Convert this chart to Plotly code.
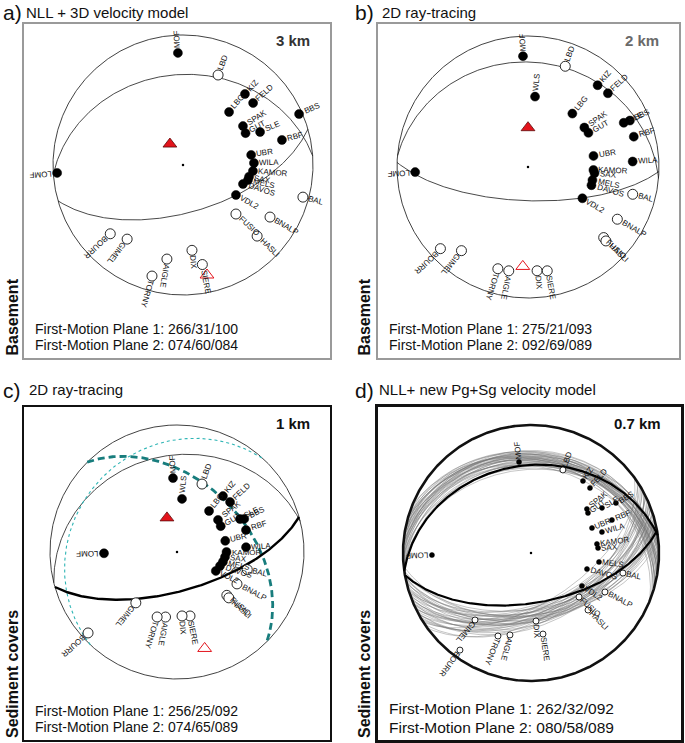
import numpy as np
import plotly.graph_objects as go

W, H = 685, 743
FONT = "Liberation Sans, Arial, Helvetica, sans-serif"

# ---------------------------------------------------------------- data
# Panel a : NLL + 3D velocity model (3 km)
a_sta = ["MOF", "LBD", "KIZ", "FELD", "LBG", "BBS", "SPAK", "GUT", "SLE", "RBF", "UBR", "WILA",
         "KAMOR", "SAX", "LOMF", "MELS", "DAVOS", "VDL2", "BAL", "FUSIO", "BNALP", "HASLI",
         "BOURR", "GIMEL", "AIGLE", "TORNY", "DIX", "SIERE"]
a_az = [357.4, 21.3, 41.1, 48.5, 41.0, 66.3, 57.0, 63.0, 66.8, 75.8, 81.6, 88.4,
        94.9, 100.0, 266.4, 103.0, 107.6, 119.5, 105.0, 132.8, 120.9, 133.8,
        226.6, 217.0, 189.7, 195.6, 174.0, 169.0]
a_rad = [0.863, 0.743, 0.725, 0.720, 0.540, 0.975, 0.550, 0.540, 0.645, 0.785, 0.530, 0.546,
         0.540, 0.516, 0.970, 0.513, 0.484, 0.468, 0.955, 0.555, 0.780, 0.790,
         0.770, 0.714, 0.734, 0.887, 0.660, 0.780]
a_pol = [1, 0, 1, 1, 1, 1, 1, 1, 1, 1, 1, 1, 1, 1, 1, 1, 1, 1, 0, 0, 0, 0, 0, 0, 0, 0, 0, 0]
a_planes = [(266, 31), (74, 60)]
a_paxis = (328.0, 0.19)
a_taxis = (167.7, 0.866)

# Panel b : 2D ray-tracing (2 km)
b_sta = ["MOF", "LBD", "KIZ", "FELD", "WLS", "LBG", "BBS", "SLE", "SPAK", "GUT", "RBF", "UBR",
         "WILA", "KAMOR", "SAX", "LOMF", "MELS", "DAVOS", "VDL2", "BAL", "BNALP", "FUSIO",
         "HASLI", "BOURR", "GIMEL", "TORNY", "AIGLE", "DIX", "SIERE"]
b_az = [357.4, 20.3, 40.4, 47.3, 5.7, 39.7, 65.5, 65.2, 55.0, 60.5, 74.0, 80.4,
        87.0, 92.6, 95.2, 267.4, 101.5, 106.0, 119.9, 104.6, 120.3, 133.0,
        133.5, 227.0, 218.5, 196.5, 190.5, 175.0, 169.5]
b_rad = [0.847, 0.820, 0.820, 0.830, 0.540, 0.530, 0.855, 0.805, 0.525, 0.530, 0.840, 0.507,
         0.800, 0.500, 0.510, 0.862, 0.502, 0.504, 0.479, 0.826, 0.790, 0.790,
         0.820, 0.914, 0.816, 0.810, 0.806, 0.795, 0.806]
b_pol = [1, 0, 1, 1, 1, 1, 1, 1, 1, 1, 1, 1, 1, 1, 1, 1, 1, 1, 1, 0, 0, 0, 0, 0, 0, 0, 0, 0, 0]
b_planes = [(275, 21), (92, 69)]
b_paxis = (0.0, 0.30)
b_taxis = (183.0, 0.76)

# Panel c : 2D ray-tracing (1 km)
c_sta = ["MOF", "LBD", "WLS", "LBG", "KIZ", "FELD", "SPAK", "GUT", "SLE", "BBS", "RBF", "UBR",
         "WILA", "KAMOR", "SAX", "MELS", "DAVOS", "VDL2", "BAL", "BNALP", "FUSIO", "HASLI",
         "LOMF", "GIMEL", "BOURR", "AIGLE", "TORNY", "SIERE", "DIX"]
c_az = [356.9, 20.2, 5.4, 38.0, 39.4, 46.7, 52.0, 59.4, 62.4, 63.8, 72.3, 77.0,
        86.0, 90.0, 96.0, 102.0, 108.0, 116.0, 104.0, 118.0, 131.0, 131.5,
        269.0, 219.0, 227.7, 190.0, 197.0, 168.5, 175.5]
c_rad = [0.583, 0.570, 0.420, 0.410, 0.570, 0.574, 0.410, 0.400, 0.560, 0.590, 0.570, 0.390,
         0.545, 0.390, 0.380, 0.370, 0.356, 0.340, 0.570, 0.535, 0.520, 0.545,
         0.575, 0.515, 0.947, 0.520, 0.535, 0.514, 0.505]
c_pol = [1, 0, 1, 1, 1, 1, 1, 1, 1, 1, 1, 1, 1, 1, 1, 1, 1, 1, 0, 0, 0, 0, 1, 0, 0, 0, 0, 0, 0]
c_plane1 = (256, 25)
c_plane2 = (74, 65)
c_teal_dashed = (315, 44)
c_teal_dotted = (223, 18)
c_paxis = (343.6, 0.28)
c_taxis = (164.0, 0.79)

# Panel d : NLL + new Pg+Sg velocity model (0.7 km)
d_sta = ["MOF", "LBD", "KIZ", "FELD", "SPAK", "GUT", "SLE", "BBS", "RBF", "UBR", "WILA",
         "KAMOR", "SAX", "LOMF", "MELS", "DAVOS", "BAL", "VDL2", "BNALP", "FUSIO", "HASLI",
         "GIMEL", "BOURR", "TRONY", "AIGLE", "DIX", "SIERE"]
d_az = [352.5, 21.0, 35.8, 42.2, 51.8, 54.9, 57.6, 59.5, 67.8, 67.7, 73.5,
        82.2, 85.7, 268.8, 97.5, 106.0, 102.3, 122.9, 117.8, 132.5, 135.0,
        219.9, 216.2, 201.7, 194.4, 175.8, 171.6]
d_rad = [0.717, 0.695, 0.694, 0.686, 0.556, 0.544, 0.657, 0.770, 0.683, 0.515, 0.578,
         0.520, 0.525, 0.774, 0.536, 0.455, 0.735, 0.474, 0.653, 0.509, 0.630,
         0.682, 0.940, 0.698, 0.661, 0.533, 0.640]
d_pol = [1, 0, 1, 1, 1, 1, 1, 1, 1, 1, 1, 1, 1, 1, 1, 1, 0, 1, 0, 0, 0, 0, 0, 0, 0, 0, 0]
d_planes = [(262, 32), (80, 58)]
# acceptable-solution ensemble (grey planes)
d_fam1_strike = [262, 263, 264, 265, 266, 267, 268, 269, 270, 271, 272, 273, 274, 275, 276, 277,
                 278, 279, 280, 281, 282, 283, 284, 285, 286, 287, 288, 290, 292, 265, 270, 275,
                 280, 285, 268, 278]
d_fam1_dip = [30, 26, 33, 28, 24, 31, 27, 34, 25, 29, 23, 32, 26, 30, 28, 24,
              31, 27, 22, 29, 25, 33, 26, 28, 23, 30, 27, 25, 29, 35, 21, 32,
              24, 27, 22, 28]
d_fam2_strike = [54, 56, 58, 60, 61, 62, 63, 64, 65, 66, 67, 68, 69, 70, 71, 72,
                 73, 74, 75, 76, 77, 78, 79, 80, 82, 84, 57, 62, 67, 72, 77, 59,
                 64, 69, 74, 79]
d_fam2_dip = [50, 47, 53, 49, 55, 46, 51, 57, 48, 52, 45, 54, 49, 56, 47, 51,
              53, 46, 50, 55, 48, 52, 47, 54, 50, 49, 58, 44, 52, 57, 46, 51,
              55, 48, 53, 50]

titles = ["NLL + 3D velocity model", "2D ray-tracing", "2D ray-tracing", "NLL+ new Pg+Sg velocity model"]
letters = ["a)", "b)", "c)", "d)"]
depths = ["3 km", "2 km", "1 km", "0.7 km"]
sol_a = ["266/31/100", "074/60/084"]
sol_b = ["275/21/093", "092/69/089"]
sol_c = ["256/25/092", "074/65/089"]
sol_d = ["262/32/092", "080/58/089"]
side_labels = ["Basement", "Basement", "Sediment covers", "Sediment covers"]

# ---------------------------------------------------------------- layout (pixels)
geom = [
    dict(box=(24, 330, 24, 358), c=(183, 165), R=130, frame="#9a9a9a", fw=2.2, dcol="#333333"),
    dict(box=(378, 679, 24, 358), c=(528, 167), R=131, frame="#9a9a9a", fw=2.2, dcol="#6a6a6a"),
    dict(box=(24, 330, 407, 740), c=(177, 552), R=127, frame="#111111", fw=2.2, dcol="#111111"),
    dict(box=(378, 681, 407, 740), c=(531, 553), R=128, frame="#111111", fw=3.2, dcol="#111111"),
]


# ---------------------------------------------------------------- helpers
def great_circle(strike, dip, n=241):
    s = np.radians(strike)
    d = np.radians(dip)
    t = np.linspace(0, np.pi, n)
    sv = np.array([np.sin(s), np.cos(s), 0.0])
    dd = s + np.pi / 2
    dv = np.array([np.cos(d) * np.sin(dd), np.cos(d) * np.cos(dd), np.sin(d)])
    v = np.outer(np.cos(t), sv) + np.outer(np.sin(t), dv)
    plunge = np.arcsin(np.clip(v[:, 2], -1, 1))
    trend = np.arctan2(v[:, 0], v[:, 1])
    r = np.sqrt(2) * np.sin((np.pi / 2 - plunge) / 2)
    return r * np.sin(trend), r * np.cos(trend)


def polar(az, rad):
    a = np.radians(np.asarray(az, float))
    r = np.asarray(rad, float)
    return r * np.sin(a), r * np.cos(a)


CW = {"I": 0.278, "M": 0.833, "W": 0.944, "L": 0.556, "F": 0.611, "E": 0.667, "S": 0.667,
      "T": 0.611, "Z": 0.611, "J": 0.5, "2": 0.556}


def text_w(s, size):
    return sum(CW.get(ch, 0.70) for ch in s) * size


fig = go.Figure()
annotations = []

for i, g in enumerate(geom):
    idx = i + 1
    xa = "xaxis" if idx == 1 else f"xaxis{idx}"
    ya = "yaxis" if idx == 1 else f"yaxis{idx}"
    xr = "x" if idx == 1 else f"x{idx}"
    yr = "y" if idx == 1 else f"y{idx}"
    L, Rr, T, B = g["box"]
    cx, cy = g["c"]
    R = g["R"]
    ax_common = dict(showgrid=False, zeroline=False, showticklabels=False, ticks="",
                     showline=True, mirror=True, linecolor=g["frame"], linewidth=g["fw"],
                     fixedrange=True)
    fig.update_layout(**{
        xa: dict(domain=[L / W, Rr / W], range=[(L - cx) / R, (Rr - cx) / R], anchor=yr, **ax_common),
        ya: dict(domain=[1 - B / H, 1 - T / H], range=[-(B - cy) / R, (cy - T) / R], anchor=xr, **ax_common),
    })

    def line(x, y, color="#1a1a1a", width=0.8, dash=None):
        fig.add_trace(go.Scatter(x=x, y=y, xaxis=xr, yaxis=yr, mode="lines", hoverinfo="skip",
                                 line=dict(color=color, width=width, dash=dash)))

    th = np.linspace(0, 2 * np.pi, 721)
    prim_w = 2.6 if idx == 4 else 0.8

    if idx == 1:
        sta, az, rad, pol, planes, pax, tax = a_sta, a_az, a_rad, a_pol, a_planes, a_paxis, a_taxis
        sol = sol_a
    elif idx == 2:
        sta, az, rad, pol, planes, pax, tax = b_sta, b_az, b_rad, b_pol, b_planes, b_paxis, b_taxis
        sol = sol_b
    elif idx == 3:
        sta, az, rad, pol, pax, tax = c_sta, c_az, c_rad, c_pol, c_paxis, c_taxis
        planes = [c_plane1]
        sol = sol_c
    else:
        sta, az, rad, pol = d_sta, d_az, d_rad, d_pol
        planes = []
        pax = tax = None
        sol = sol_d

    # grey ensemble (panel d)
    if idx == 4:
        for s_, d_ in list(zip(d_fam1_strike, d_fam1_dip)) + list(zip(d_fam2_strike, d_fam2_dip)):
            gx, gy = great_circle(s_, d_)
            line(gx, gy, color="rgba(115,115,115,0.7)", width=0.6)

    line(np.sin(th), np.cos(th), width=prim_w, color="#111111")
    for s_, d_ in planes:
        gx, gy = great_circle(s_, d_)
        line(gx, gy, width=0.8)
    if idx == 3:
        gx, gy = great_circle(*c_teal_dotted)
        line(gx, gy, color="#2fb5b5", width=1.1, dash="dot")
        gx, gy = great_circle(*c_teal_dashed)
        line(gx, gy, color="#187d7d", width=2.8, dash="7px,4px")
        gx, gy = great_circle(*c_plane2)
        line(gx, gy, color="#000000", width=2.4)
    if idx == 4:
        for s_, d_ in d_planes:
            gx, gy = great_circle(s_, d_)
            line(gx, gy, color="#000000", width=2.2)

    # center dot
    fig.add_trace(go.Scatter(x=[0], y=[0], xaxis=xr, yaxis=yr, mode="markers", hoverinfo="skip",
                             marker=dict(size=2.5, color="#000")))

    msz = 5 if idx == 4 else 9
    sx, sy = polar(az, rad)
    pol = np.array(pol)
    up = pol == 1
    fig.add_trace(go.Scatter(x=sx[~up], y=sy[~up], xaxis=xr, yaxis=yr, mode="markers", hoverinfo="skip",
                             marker=dict(size=msz + 1, color="white", line=dict(color="#111", width=0.9))))
    fig.add_trace(go.Scatter(x=sx[up], y=sy[up], xaxis=xr, yaxis=yr, mode="markers", hoverinfo="skip",
                             marker=dict(size=msz, color="#000", line=dict(color="#000", width=0.5))))
    if pax is not None:
        px_, py_ = polar([pax[0]], [pax[1]])
        fig.add_trace(go.Scatter(x=px_, y=py_, xaxis=xr, yaxis=yr, mode="markers", hoverinfo="skip",
                                 marker=dict(size=12, symbol="triangle-up", color="#e3141c",
                                             line=dict(color="#5a0a0a", width=0.8))))
        tx_, ty_ = polar([tax[0]], [tax[1]])
        fig.add_trace(go.Scatter(x=tx_, y=ty_, xaxis=xr, yaxis=yr, mode="markers", hoverinfo="skip",
                                 marker=dict(size=12, symbol="triangle-up-open", color="#e3141c",
                                             line=dict(color="#e3141c", width=1))))

    # station labels
    fs = 8
    gap = 3.5 if idx == 4 else 5.5
    for n_, a_, x_, y_ in zip(sta, az, sx, sy):
        ar = np.radians(a_)
        ang = a_ - 90
        if ang > 180:
            ang -= 360
        dist = gap + text_w(n_, fs) / 2
        annotations.append(dict(x=x_, y=y_, xref=xr, yref=yr, text=n_, showarrow=False,
                                textangle=ang, xanchor="center", yanchor="middle",
                                xshift=dist * np.sin(ar), yshift=dist * np.cos(ar),
                                borderpad=0, font=dict(size=fs, family=FONT, color="#111")))

    # panel texts (paper coords)
    def pap(x, y):
        return x / W, 1 - y / H

    lx = 1 if idx in (1, 3) else 353
    ty = 13 if idx <= 2 else 390
    x0, y0 = pap(lx, ty)
    annotations.append(dict(x=x0, y=y0, xref="paper", yref="paper", text=letters[i], showarrow=False,
                            xanchor="left", yanchor="middle", font=dict(size=21, family=FONT, color="#111")))
    tx0 = {1: 24, 2: 380, 3: 27, 4: 377}[idx]
    x0, y0 = pap(tx0, ty - 1)
    annotations.append(dict(x=x0, y=y0, xref="paper", yref="paper", text=titles[i], showarrow=False,
                            xanchor="left", yanchor="middle", font=dict(size=15, family=FONT, color="#111")))
    # depth label
    dx_ = Rr - 18
    x0, y0 = pap(dx_, T + 16)
    annotations.append(dict(x=x0, y=y0, xref="paper", yref="paper", text=f"<b>{depths[i]}</b>",
                            showarrow=False, xanchor="right", yanchor="middle",
                            font=dict(size=15, family=FONT, color=g["dcol"])))
    # solution text
    sfs = 15.5 if idx == 4 else 14
    sl = L + 9
    yy = (B - 29, B - 13) if idx != 4 else (B - 32, B - 13)
    for k in range(2):
        x0, y0 = pap(sl, yy[k])
        annotations.append(dict(x=x0, y=y0, xref="paper", yref="paper",
                                text=f"First-Motion Plane {k + 1}: {sol[k]}", showarrow=False,
                                xanchor="left", yanchor="middle",
                                font=dict(size=sfs, family=FONT, color="#111")))
    # side label
    sx_ = 12 if idx in (1, 3) else 364
    x0, y0 = pap(sx_, B)
    annotations.append(dict(x=x0, y=y0, xref="paper", yref="paper", text=f"<b>{side_labels[i]}</b>",
                            showarrow=False, textangle=-90, xanchor="center", yanchor="bottom",
                            font=dict(size=16, family=FONT, color="#111")))

fig.update_layout(width=W, height=H, margin=dict(l=0, r=0, t=0, b=0), showlegend=False,
                  plot_bgcolor="white", paper_bgcolor="white", annotations=annotations)
fig.write_html("out.html", config={"displayModeBar": False, "staticPlot": True},
               post_script="document.body.style.margin='0';document.body.style.padding='0';")
